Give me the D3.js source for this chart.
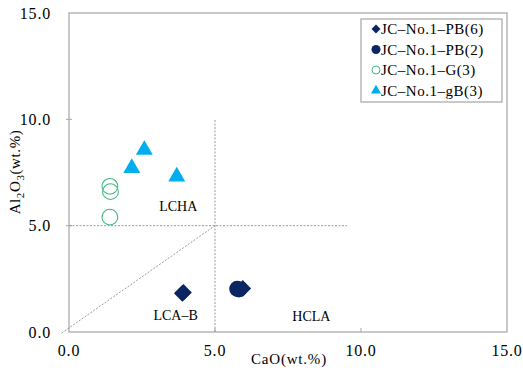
<!DOCTYPE html>
<html>
<head>
<meta charset="utf-8">
<script src="https://cdn.jsdelivr.net/npm/d3@7"></script>
<style>
  body { margin: 0; background: #fff; }
  svg { display: block; font-family: "Liberation Serif", "DejaVu Serif", serif; }
</style>
</head>
<body>
<svg width="523" height="373"></svg>
<script>
// values (CaO, Al2O3 in wt.%)
const pb6X = [3.88, 3.92, 5.95];
const pb6Y = [1.82, 1.86, 2.05];
const pb2X = [5.76, 5.82];
const pb2Y = [2.03, 2.0];
const g3X = [1.4, 1.42, 1.4];
const g3Y = [6.85, 6.6, 5.4];
const gB3X = [2.58, 2.15, 3.69];
const gB3Y = [8.56, 7.71, 7.31];
const ticks = [0, 5, 10, 15];
const seriesNames = ["JC\u2013No.1\u2013PB(6)", "JC\u2013No.1\u2013PB(2)", "JC\u2013No.1\u2013G(3)", "JC\u2013No.1\u2013gB(3)"];

const svg = d3.select("svg");
const margin = {top: 13, left: 69};
const width = 438, height = 319;

const x = d3.scaleLinear().domain([0, 15]).range([0, width]);
const y = d3.scaleLinear().domain([0, 15]).range([height, 0]);

const g = svg.append("g")
  .attr("transform", `translate(${margin.left},${margin.top})`);

// frame
g.append("rect")
  .attr("width", width).attr("height", height)
  .attr("fill", "none").attr("stroke", "#a6a6a6").attr("stroke-width", 1.2);

// small inner ticks
g.selectAll(".xt").data([5, 10]).enter().append("line")
  .attr("x1", d => x(d)).attr("x2", d => x(d))
  .attr("y1", height).attr("y2", height - 4)
  .attr("stroke", "#a6a6a6");
g.selectAll(".yt").data([5, 10]).enter().append("line")
  .attr("x1", -3).attr("x2", 3)
  .attr("y1", d => y(d)).attr("y2", d => y(d))
  .attr("stroke", "#a6a6a6");

// field boundaries
const dotted = {stroke: "#9a9a9a", dash: "2,1.5"};
function bound(x1, y1, x2, y2) {
  g.append("line")
    .attr("x1", x(x1)).attr("y1", y(y1))
    .attr("x2", x(x2)).attr("y2", y(y2))
    .attr("stroke", dotted.stroke).attr("stroke-width", 1)
    .attr("stroke-dasharray", dotted.dash);
}
bound(5, 0, 5, 10);
bound(0, 5, 9.52, 5);
bound(-0.25, -0.05, 5, 5);

// tick labels
g.selectAll(".xl").data(ticks).enter().append("text")
  .attr("x", d => x(d)).attr("y", height + 24)
  .attr("text-anchor", "middle")
  .style("font-size", "16px").style("letter-spacing", "0.8px")
  .text(d => d.toFixed(1));
g.selectAll(".yl").data(ticks).enter().append("text")
  .attr("x", -18).attr("y", d => y(d)).attr("dy", "0.35em")
  .attr("text-anchor", "end")
  .style("font-size", "16px").style("letter-spacing", "0.8px")
  .text(d => d.toFixed(1));

// axis titles
svg.append("text")
  .attr("x", 289).attr("y", 364)
  .attr("text-anchor", "middle")
  .style("font-size", "15px").style("letter-spacing", "0.8px")
  .text("CaO(wt.%)");

const yt = svg.append("text")
  .attr("transform", "translate(20,172) rotate(-90)")
  .attr("text-anchor", "middle")
  .style("font-size", "15px").style("letter-spacing", "0.6px");
yt.append("tspan").text("Al");
yt.append("tspan").attr("dy", 4).style("font-size", "11px").text("2");
yt.append("tspan").attr("dy", -4).text("O");
yt.append("tspan").attr("dy", 4).style("font-size", "11px").text("3");
yt.append("tspan").attr("dy", -4).text("(wt.%)");

// region labels
const regions = [["LCHA", 3.74, 5.7], ["LCA\u2013B", 3.65, 0.55], ["HCLA", 8.3, 0.5]];
g.selectAll(".reg").data(regions).enter().append("text")
  .attr("x", d => x(d[1])).attr("y", d => y(d[2]))
  .attr("text-anchor", "middle")
  .style("font-size", "14px")
  .text(d => d[0]);

const navy = "#0a2561", cyan = "#00aeef", green = "#45b883";
const zip = (xs, ys) => xs.map((v, i) => [v, ys[i]]);

// markers
g.selectAll(".pb6").data(zip(pb6X, pb6Y)).enter().append("path")
  .attr("d", d3.symbol(d3.symbolSquare, 140))
  .attr("transform", d => `translate(${x(d[0])},${y(d[1])}) rotate(45)`)
  .attr("fill", navy);
g.selectAll(".pb2").data(zip(pb2X, pb2Y)).enter().append("path")
  .attr("d", d3.symbol(d3.symbolCircle, 200))
  .attr("transform", d => `translate(${x(d[0])},${y(d[1])})`)
  .attr("fill", navy);
g.selectAll(".g3").data(zip(g3X, g3Y)).enter().append("path")
  .attr("d", d3.symbol(d3.symbolCircle, 195))
  .attr("transform", d => `translate(${x(d[0])},${y(d[1])})`)
  .attr("fill", "none").attr("stroke", green).attr("stroke-width", 1.1);
g.selectAll(".gb3").data(zip(gB3X, gB3Y)).enter().append("path")
  .attr("d", d3.symbol(d3.symbolTriangle, 125))
  .attr("transform", d => `translate(${x(d[0])},${y(d[1])})`)
  .attr("fill", cyan);

// legend
const legend = svg.append("g").attr("transform", "translate(361,19)");
legend.append("rect")
  .attr("width", 141).attr("height", 83)
  .attr("fill", "#fff").attr("stroke", "#a6a6a6").attr("stroke-width", 1.2);
const legendSym = [
  {sym: d3.symbolSquare, size: 40, rot: 45, fill: navy, stroke: "none"},
  {sym: d3.symbolCircle, size: 64, rot: 0, fill: navy, stroke: "none"},
  {sym: d3.symbolCircle, size: 50, rot: 0, fill: "none", stroke: green},
  {sym: d3.symbolTriangle, size: 44, rot: 0, fill: cyan, stroke: "none"}
];
const row = legend.selectAll(".row").data(seriesNames).enter().append("g")
  .attr("transform", (d, i) => `translate(0,${10 + i * 20.5})`);
row.append("path")
  .attr("d", (d, i) => d3.symbol(legendSym[i].sym, legendSym[i].size)())
  .attr("transform", (d, i) => `translate(15,0) rotate(${legendSym[i].rot})`)
  .attr("fill", (d, i) => legendSym[i].fill)
  .attr("stroke", (d, i) => legendSym[i].stroke);
row.append("text")
  .attr("x", 20).attr("dy", "0.35em")
  .style("font-size", "15px").style("letter-spacing", "0.5px")
  .text(d => d);
</script>
</body>
</html>
